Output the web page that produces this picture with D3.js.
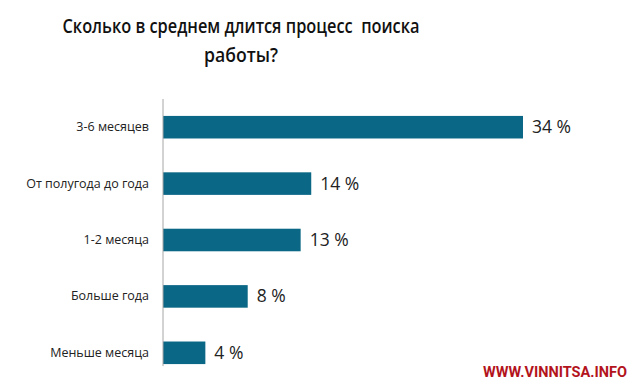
<!DOCTYPE html>
<html>
<head>
<meta charset="utf-8">
<script src="https://cdn.jsdelivr.net/npm/d3@7"></script>
<style>
  body { margin: 0; background: #fff; }
  #canvas { width: 640px; height: 386px; }
</style>
</head>
<body>
<div id="canvas"></div>
<script>
const categories = ["3-6 месяцев", "От полугода до года", "1-2 месяца", "Больше года", "Меньше месяца"];
const values = [34, 14, 13, 8, 4];
const titleLines = ["Сколько в среднем длится процесс  поиска", "работы?"];
const watermark = "WWW.VINNITSA.INFO";

const w = 640, h = 386;

let svg = d3.select("#canvas")
            .append("svg")
                .attr("width", w)
                .attr("height", h)
                .attr("viewBox", [0, 0, w, h]);

// title, squeezed to the narrow width of the original font
const titleWidths = [357, 74];
svg.append("g")
    .selectAll("text")
    .data(titleLines)
    .enter().append("text")
        .attr("x", 241)
        .attr("y", (d, i) => 33 + i * 29)
        .attr("text-anchor", "middle")
        .attr("font-family", "'Open Sans', sans-serif")
        .attr("font-weight", 600)
        .attr("font-size", 20)
        .attr("fill", "#111")
        .attr("textLength", (d, i) => titleWidths[i])
        .attr("lengthAdjust", "spacingAndGlyphs")
        .style("white-space", "pre")
        .text(d => d);

let x = d3.scaleLinear()
    .domain([0, 34])
    .range([163, 523]);

let y = d3.scaleBand()
    .domain(categories)
    .range([99, 381])
    .paddingInner(0.6)
    .paddingOuter(0.3);

let g = svg.append("g");

g.selectAll("rect")
    .data(values)
    .enter().append("rect")
        .attr("x", x(0))
        .attr("y", (d, i) => y(categories[i]))
        .attr("width", d => x(d) - x(0))
        .attr("height", y.bandwidth())
        .attr("fill", "#0a6786");

g.selectAll("text.val")
    .data(values)
    .enter().append("text")
        .attr("class", "val")
        .attr("x", d => x(d) + 9)
        .attr("y", (d, i) => y(categories[i]) + y.bandwidth() / 2 + 6)
        .attr("font-family", "'Open Sans', sans-serif")
        .attr("font-size", 17.5)
        .attr("fill", "#222")
        .text(d => d + " %");

// category axis
let yAxis = d3.axisLeft(y)
    .tickSize(0)
    .tickPadding(14);

let gY = svg.append("g")
    .attr("transform", "translate(" + x(0) + ",0)")
    .call(yAxis);
gY.select(".domain")
    .attr("d", "M0," + y.range()[0] + "V" + (y(categories[4]) + y.bandwidth() + 2))
    .attr("stroke", "#a6a6a6");
gY.selectAll(".tick text")
    .attr("font-family", "'Open Sans', sans-serif")
    .attr("font-size", 12.5)
    .attr("fill", "#222");

// site watermark
svg.append("text")
    .attr("x", 627)
    .attr("y", 377)
    .attr("text-anchor", "end")
    .attr("font-family", "'Liberation Sans Narrow', 'Roboto', sans-serif")
    .attr("font-weight", "bold")
    .attr("font-size", 15.5)
    .attr("fill", "#b3141c")
    .attr("textLength", 144)
    .attr("lengthAdjust", "spacingAndGlyphs")
    .text(watermark);
</script>
</body>
</html>
